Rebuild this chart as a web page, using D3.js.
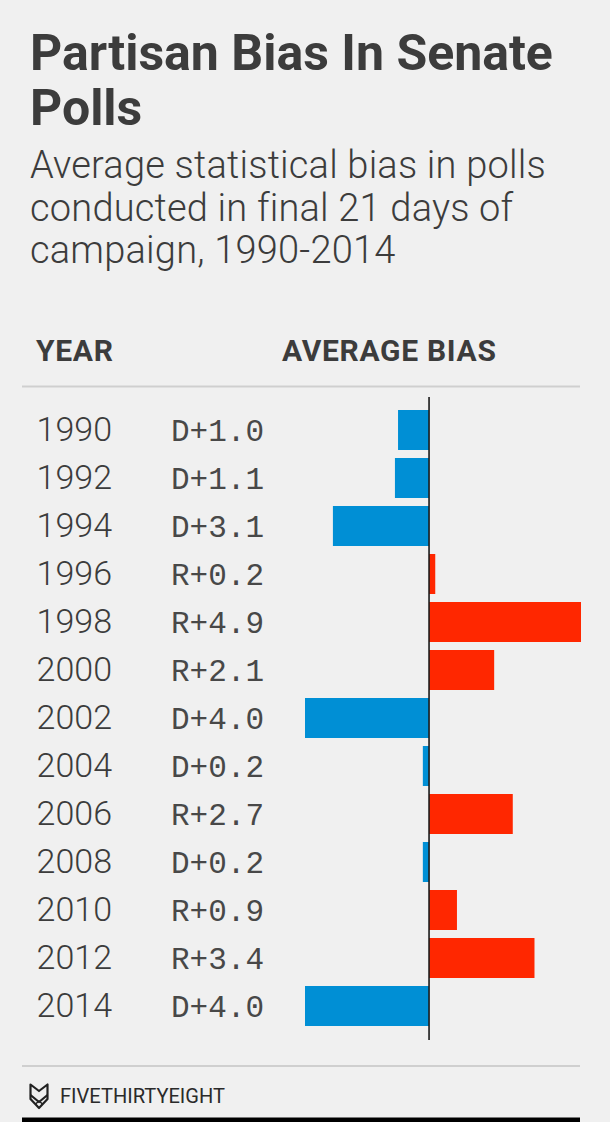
<!DOCTYPE html>
<html>
<head>
<meta charset="utf-8">
<script src="https://cdn.jsdelivr.net/npm/d3@7"></script>
<style>
  html, body { margin: 0; padding: 0; background: #f0f0f0; }
  svg { display: block; }
</style>
</head>
<body>
<div id="chart"></div>
<script>
const years = ["1990","1992","1994","1996","1998","2000","2002","2004","2006","2008","2010","2012","2014"];
// signed bias: negative = Democratic (D), positive = Republican (R)
const bias = [-1.0, -1.1, -3.1, 0.2, 4.9, 2.1, -4.0, -0.2, 2.7, -0.2, 0.9, 3.4, -4.0];
const titleLines = ["Partisan Bias In Senate", "Polls"];
const subtitleLines = ["Average statistical bias in polls", "conducted in final 21 days of", "campaign, 1990-2014"];
const headers = ["YEAR", "AVERAGE BIAS"];

const W = 610, H = 1122;
const ink = "#3c3c3c";
const svg = d3.select("#chart").append("svg").attr("width", W).attr("height", H);
svg.append("rect").attr("width", W).attr("height", H).attr("fill", "#f0f0f0");

// Title
svg.selectAll("text.title").data(titleLines).join("text")
  .attr("class", "title")
  .attr("x", 30).attr("y", (d, i) => 70 + i * 55)
  .attr("font-family", "Roboto, sans-serif").attr("font-weight", 700)
  .attr("font-size", 50).attr("fill", ink)
  .text(d => d);

// Subtitle
svg.selectAll("text.sub").data(subtitleLines).join("text")
  .attr("class", "sub")
  .attr("x", 30).attr("y", (d, i) => 178 + i * 42.5)
  .attr("font-family", "Roboto, sans-serif").attr("font-weight", 300)
  .attr("font-size", 38).attr("fill", ink)
  .attr("letter-spacing", 0.2)
  .text(d => d);

// Headers
svg.selectAll("text.hdr").data(headers).join("text")
  .attr("class", "hdr")
  .attr("x", (d, i) => i === 0 ? 36 : 282).attr("y", 361)
  .attr("font-family", "Roboto, sans-serif").attr("font-weight", 700)
  .attr("font-size", 30).attr("letter-spacing", 0.7).attr("fill", ink)
  .text(d => d);

svg.append("line").attr("x1", 22).attr("x2", 580).attr("y1", 386.5).attr("y2", 386.5)
  .attr("stroke", "#cfcfcf").attr("stroke-width", 2);

// Scales
const x = d3.scaleLinear().domain([-4.0, 4.9]).range([305, 581]);
const y = d3.scaleBand().domain(years).range([406, 1030]).paddingInner(1/6).paddingOuter(1/12);

const rows = svg.append("g").selectAll("g").data(years).join("g");

rows.append("rect")
  .attr("x", (d, i) => x(Math.min(0, bias[i])))
  .attr("y", d => y(d))
  .attr("width", (d, i) => Math.abs(x(bias[i]) - x(0)))
  .attr("height", y.bandwidth())
  .attr("fill", (d, i) => bias[i] < 0 ? "#008fd5" : "#ff2700");

rows.append("text")
  .attr("x", 112).attr("y", d => y(d) + y.bandwidth() / 2 + 11)
  .attr("text-anchor", "end")
  .attr("font-family", "Roboto, sans-serif").attr("font-weight", 300)
  .attr("font-size", 34).attr("fill", ink)
  .text(d => d);

rows.append("text")
  .attr("x", 171).attr("y", d => y(d) + y.bandwidth() / 2 + 11)
  .attr("font-family", "'Liberation Mono', monospace").attr("font-weight", 400)
  .attr("font-size", 31).attr("fill", "#484848")
  .text((d, i) => (bias[i] < 0 ? "D" : "R") + "+" + Math.abs(bias[i]).toFixed(1));

// zero line
svg.append("line").attr("x1", x(0)).attr("x2", x(0)).attr("y1", 397).attr("y2", 1040)
  .attr("stroke", "#1a1a1a").attr("stroke-width", 1.6);

// Footer
svg.append("line").attr("x1", 22).attr("x2", 580).attr("y1", 1066).attr("y2", 1066)
  .attr("stroke", "#cfcfcf").attr("stroke-width", 2);

const logo = svg.append("g").attr("transform", "translate(29,1083)")
  .attr("fill", "none").attr("stroke", "#222").attr("stroke-width", 2.2).attr("stroke-linejoin", "round");
logo.append("path").attr("d", "M1.5,1.5 L10,8 L18.5,1.5 L18.5,16 L10,25 L1.5,16 Z");
logo.append("path").attr("d", "M1.5,12 L10,19 L18.5,12");
logo.append("path").attr("d", "M6.5,21 L10,18 L13.5,21").attr("stroke-width", 1.6);

svg.append("text").attr("x", 60).attr("y", 1103)
  .attr("font-family", "Roboto, sans-serif").attr("font-weight", 400)
  .attr("font-size", 21).attr("fill", "#2a2a2a")
  .attr("textLength", 165).attr("lengthAdjust", "spacingAndGlyphs")
  .text("FIVETHIRTYEIGHT");

svg.append("rect").attr("x", 22).attr("y", 1117.5).attr("width", 558).attr("height", 4.5).attr("fill", "#000");
</script>
</body>
</html>
